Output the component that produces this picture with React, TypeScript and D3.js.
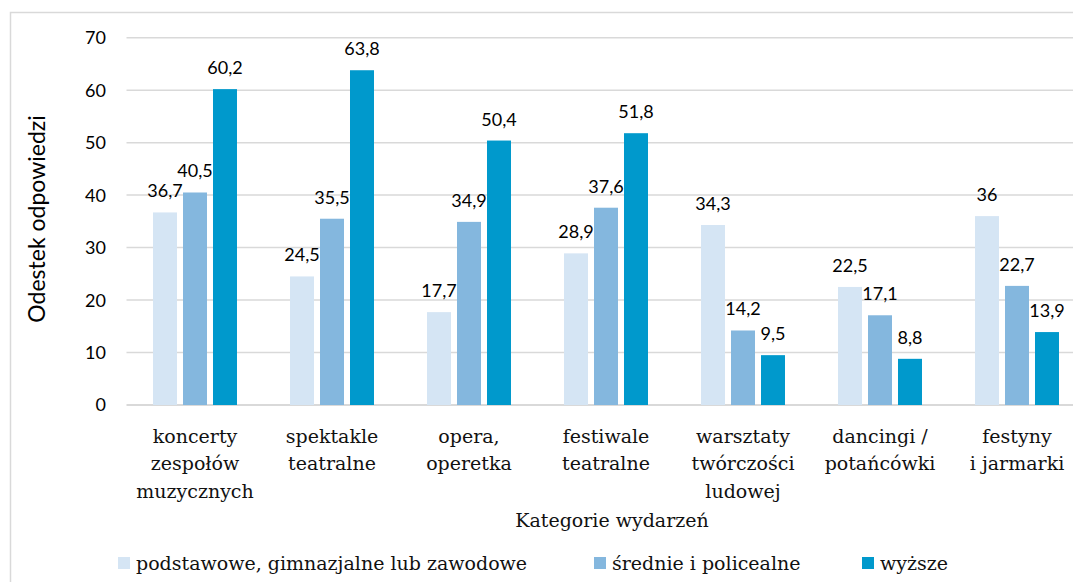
import React, { useEffect, useRef } from "react";
import * as d3 from "d3";

const categories = [
    ["koncerty", "zespołów", "muzycznych"],
    ["spektakle", "teatralne"],
    ["opera,", "operetka"],
    ["festiwale", "teatralne"],
    ["warsztaty", "twórczości", "ludowej"],
    ["dancingi /", "potańcówki"],
    ["festyny", "i jarmarki"],
];

const seriesNames = ["podstawowe, gimnazjalne lub zawodowe", "średnie i policealne", "wyższe"];
const seriesColors = ["#d5e5f4", "#84b7de", "#0099cc"];

const podstawowe = [36.7, 24.5, 17.7, 28.9, 34.3, 22.5, 36];
const srednie = [40.5, 35.5, 34.9, 37.6, 14.2, 17.1, 22.7];
const wyzsze = [60.2, 63.8, 50.4, 51.8, 9.5, 8.8, 13.9];

const yTicks = [0, 10, 20, 30, 40, 50, 60, 70];

const SANS = "Lato, 'Open Sans', sans-serif";
const SERIF = "'DejaVu Serif', serif";

export default function App() {
    const svgRef = useRef(null);
    const width = 1073;
    const height = 582;

    useEffect(() => {
        const svg = d3.select(svgRef.current);
        svg.selectAll("*").remove();

        const values = [podstawowe, srednie, wyzsze];
        const keys = categories.map((c, i) => String(i));

        const xScale = d3.scaleBand()
            .domain(keys)
            .range([126.5, 1085.5])
            .paddingInner(0.387)
            .paddingOuter(0.1935);

        const xInner = d3.scaleBand()
            .domain(seriesNames)
            .range([0, xScale.bandwidth()])
            .paddingInner(0.2);

        const yScale = d3.scaleLinear()
            .domain([0, 70])
            .range([405, 37.7]);

        // outer frame
        svg.append("path")
            .attr("d", `M10.5,${height} V12.5 H${width}`)
            .attr("fill", "none")
            .attr("stroke", "#d9d9d9")
            .attr("stroke-width", 1.5);

        // gridlines
        svg.append("g")
            .selectAll("line")
            .data(yTicks)
            .join("line")
            .attr("x1", 126.5)
            .attr("x2", 1085.5)
            .attr("y1", d => yScale(d))
            .attr("y2", d => yScale(d))
            .attr("stroke", "#d9d9d9")
            .attr("stroke-width", d => d === 0 ? 2 : 1.5);

        // y tick labels
        svg.append("g")
            .selectAll("text")
            .data(yTicks)
            .join("text")
            .attr("x", 106)
            .attr("y", d => yScale(d))
            .attr("dy", "0.36em")
            .attr("text-anchor", "end")
            .style("font-family", SANS)
            .style("font-size", "18px")
            .attr("fill", "#000")
            .text(d => d);

        // y axis title
        svg.append("text")
            .attr("transform", `translate(45,219) rotate(-90)`)
            .attr("text-anchor", "middle")
            .style("font-family", SANS)
            .style("font-size", "23px")
            .text("Odestek odpowiedzi");

        // bars + labels
        values.forEach((vals, si) => {
            const g = svg.append("g");
            g.selectAll("rect")
                .data(vals)
                .join("rect")
                .attr("x", (d, i) => xScale(keys[i]) + xInner(seriesNames[si]))
                .attr("y", d => yScale(d))
                .attr("width", xInner.bandwidth())
                .attr("height", d => yScale(0) - yScale(d))
                .attr("fill", seriesColors[si]);

            g.selectAll("text")
                .data(vals)
                .join("text")
                .attr("x", (d, i) => xScale(keys[i]) + xInner(seriesNames[si]) + xInner.bandwidth() / 2)
                .attr("y", d => yScale(d) - 15)
                .attr("text-anchor", "middle")
                .style("font-family", SANS)
                .style("font-size", "18px")
                .text(d => String(d).replace(".", ","));
        });

        // category labels
        const cat = svg.append("g")
            .selectAll("text")
            .data(categories)
            .join("text")
            .attr("text-anchor", "middle")
            .style("font-family", SERIF)
            .style("font-size", "19px")
            .attr("fill", "#111");
        cat.each(function (lines, i) {
            const cx = xScale(keys[i]) + xScale.bandwidth() / 2;
            d3.select(this).selectAll("tspan")
                .data(lines)
                .join("tspan")
                .attr("x", cx)
                .attr("y", (d, j) => 442.5 + j * 27.8)
                .text(d => d);
        });

        // x axis title
        svg.append("text")
            .attr("x", 612)
            .attr("y", 526.5)
            .attr("text-anchor", "middle")
            .style("font-family", SERIF)
            .style("font-size", "19px")
            .attr("fill", "#111")
            .text("Kategorie wydarzeń");

        // legend
        const legendX = [118, 594, 862];
        const legend = svg.append("g")
            .selectAll("g")
            .data(seriesNames)
            .join("g")
            .attr("transform", (d, i) => `translate(${legendX[i]},563)`);
        legend.append("rect")
            .attr("x", 0)
            .attr("y", -6)
            .attr("width", 12)
            .attr("height", 12)
            .attr("fill", (d, i) => seriesColors[i]);
        legend.append("text")
            .attr("x", 18)
            .attr("y", 0)
            .attr("dy", "0.35em")
            .style("font-family", SERIF)
            .style("font-size", "19px")
            .attr("fill", "#111")
            .text(d => d);
    }, []);

    return (
        <svg
            ref={svgRef}
            width={width}
            height={height}
            style={{ position: "fixed", left: 0, top: 0, background: "#fff" }}
        />
    );
}
